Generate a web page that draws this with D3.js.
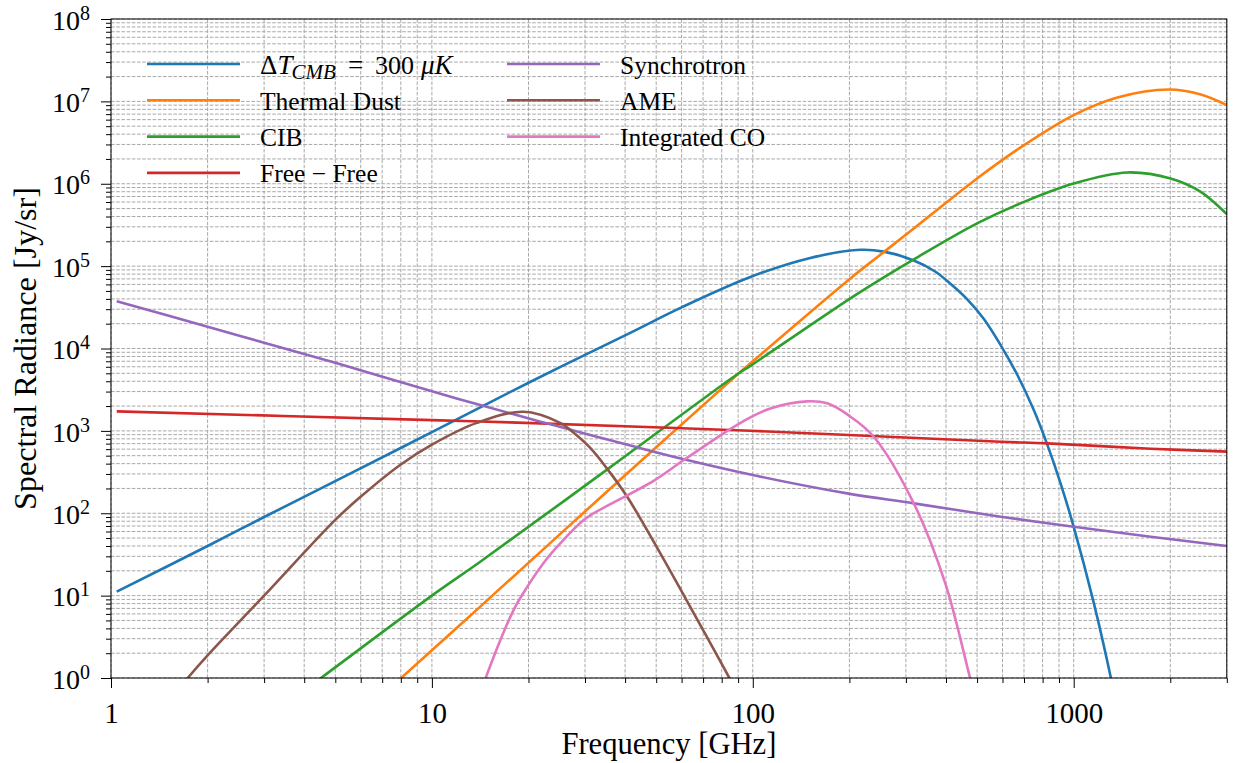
<!DOCTYPE html>
<html><head><meta charset="utf-8">
<script src="https://cdn.jsdelivr.net/npm/d3@7"></script>
<style>
body{margin:0;background:#fff}
svg{display:block}
text{font-family:"Liberation Serif","Times New Roman",serif;fill:#000}
</style>
</head><body>
<svg id="c" width="1235" height="763"></svg>
<script>
// ---------------- data ----------------
const xTickValues = [1, 10, 100, 1000];
const xTickLabels = ["1", "10", "100", "1000"];
const yTickExponents = [0, 1, 2, 3, 4, 5, 6, 7, 8];

const seriesNames = ["\u0394T_CMB = 300 \u03bcK", "Thermal Dust", "CIB", "Free \u2212 Free", "Synchrotron", "AME", "Integrated CO"];
const seriesColors = ["#1f77b4", "#ff7f0e", "#2ca02c", "#d62728", "#9467bd", "#8c564b", "#e377c2"];

const cmbFreq = [1.042, 2, 3, 5, 10, 20.3, 41.5, 60.2, 98.3, 150, 216.5, 256, 317.5, 370, 413, 466, 525, 592, 667, 751, 827, 910, 1000, 1156, 1303, 1400];
const cmbVal  = [11.2, 40, 90, 245, 966, 3950, 15500, 31800, 73800, 125000, 158000, 150000, 117000, 86000, 61000, 39500, 22800, 11000, 4800, 1790, 685, 231, 68.5, 8.05, 1.04, 0.25];

const dustFreq = [7, 8.02, 14.15, 36, 90.4, 98.3, 201.4, 255.9, 358, 500, 700, 1000, 1368, 1982, 2489, 3000];
const dustVal  = [0.62, 1, 7.35, 200, 4990, 6607, 70960, 147900, 415900, 1159000, 2938000, 6808000, 11140000, 13930000, 12110000, 8995000];

const cibFreq = [4.0, 4.51, 10, 14.15, 36, 90.4, 98.3, 201.4, 250, 317.5, 500, 700, 1000, 1469, 2004, 2489, 3000];
const cibVal  = [0.71, 1, 10, 25.8, 363, 5012, 6166, 40550, 68870, 120500, 329600, 602600, 1007000, 1371000, 1159000, 798000, 427600];

const ffFreq = [1.042, 10, 17.5, 98.3, 591.6, 827, 1738, 3000];
const ffVal  = [1726, 1352, 1268, 1002, 738, 705, 607, 560];

const syncFreq = [1.042, 2, 3, 5, 10, 14.15, 23.9, 43.6, 61, 98.3, 196.8, 317.5, 591.6, 1000, 1738, 3000];
const syncVal  = [37580, 18410, 11750, 6699, 3020, 2056, 1175, 631, 451.9, 295.1, 174.2, 131.8, 90.8, 68.5, 51.9, 40.0];

const ameFreq = [1.585, 1.734, 2.0, 3.0, 4.99, 5.97, 7.96, 10, 13.8, 19.3, 25.1, 27.0, 31.2, 35.1, 40.6, 51.5, 65.5, 84.1, 91.2];
const ameVal  = [0.646, 1, 1.884, 10, 82.6, 156, 385, 680, 1250, 1706, 1253, 1023, 616.6, 350.8, 158.5, 32.6, 6.10, 1.04, 0.562];

const coFreq = [14.13, 14.76, 17.97, 19.77, 22.84, 25.12, 29.72, 31.92, 35.97, 49.09, 60.95, 84.1, 98.3, 113.5, 147.6, 170.6, 199.5, 238.2, 317.5, 398, 474.2, 501];
const coVal  = [0.63, 1.04, 6.68, 12.6, 28.2, 43.2, 82.6, 100, 128.8, 247.2, 442.6, 1023, 1459, 1875, 2280, 2158, 1531, 849, 131.8, 14.1, 1.04, 0.45];

const seriesFreqs = [cmbFreq, dustFreq, cibFreq, ffFreq, syncFreq, ameFreq, coFreq];
const seriesVals  = [cmbVal, dustVal, cibVal, ffVal, syncVal, ameVal, coVal];

// ---------------- layout ----------------
const L = 111, R = 1226.8, T = 19, B = 678;
const svg = d3.select("#c");
const x = d3.scaleLog().domain([1, 3000]).range([L, R]);
const y = d3.scaleLog().domain([1, 1e8]).range([B, T]);

// grid values (major + minor)
const xGrid = [];
[1, 10, 100, 1000].forEach(d => { for (let m = 1; m <= 9; m++) { const v = d * m; if (v <= 3000) xGrid.push(v); } });
const yGrid = [];
for (let k = 0; k < 8; k++) for (let m = 1; m <= 9; m++) yGrid.push(m * Math.pow(10, k));
yGrid.push(1e8);

const gridStyle = g => g.attr("stroke", "#a8a8a8").attr("stroke-width", 1).attr("stroke-dasharray", "3.6,1.6").attr("fill", "none");
const grid = svg.append("g");
grid.selectAll("line.gx").data(xGrid).join("line")
  .attr("x1", d => x(d)).attr("x2", d => x(d)).attr("y1", T).attr("y2", B).call(gridStyle);
grid.selectAll("line.gy").data(yGrid).join("line")
  .attr("x1", L).attr("x2", R).attr("y1", d => y(d)).attr("y2", d => y(d)).call(gridStyle);

// clip
svg.append("clipPath").attr("id", "clip").append("rect")
  .attr("x", L).attr("y", T).attr("width", R - L).attr("height", B - T);

// series lines
const line = d3.line().x(d => x(d[0])).y(d => y(d[1])).curve(d3.curveCatmullRom.alpha(0.5));
const lines = svg.append("g").attr("clip-path", "url(#clip)");
seriesFreqs.forEach((fr, i) => {
  const pts = fr.map((f, j) => [f, seriesVals[i][j]]);
  lines.append("path").datum(pts).attr("d", line)
    .attr("fill", "none").attr("stroke", seriesColors[i]).attr("stroke-width", 2.6)
    .attr("stroke-linejoin", "round");
});

// x axis ticks
const xMinor = xGrid.filter(v => !xTickValues.includes(v));
const xAxis = svg.append("g").attr("transform", `translate(0,${B})`);
xAxis.call(d3.axisBottom(x).tickValues(xTickValues).tickSize(10).tickSizeOuter(0).tickFormat((d, i) => xTickLabels[i]));
xAxis.select(".domain").remove();
xAxis.selectAll("text").attr("font-size", 29).attr("font-family", "Liberation Serif").attr("y", 24).attr("dy", "0.71em");
const xAxisMinor = svg.append("g").attr("transform", `translate(0,${B})`);
xAxisMinor.call(d3.axisBottom(x).tickValues(xMinor).tickSize(5).tickSizeOuter(0).tickFormat(""));
xAxisMinor.select(".domain").remove();

// y axis ticks
const yMajor = yTickExponents.map(e => Math.pow(10, e));
const yMinor = yGrid.filter(v => !yMajor.includes(v));
const yAxis = svg.append("g").attr("transform", `translate(${L},0)`);
yAxis.call(d3.axisLeft(y).tickValues(yMajor).tickSize(10).tickSizeOuter(0).tickFormat(""));
yAxis.select(".domain").remove();
const yAxisMinor = svg.append("g").attr("transform", `translate(${L},0)`);
yAxisMinor.call(d3.axisLeft(y).tickValues(yMinor).tickSize(5).tickSizeOuter(0).tickFormat(""));
yAxisMinor.select(".domain").remove();
svg.selectAll(".tick line").attr("stroke", "#000").attr("stroke-width", 1);

// y tick labels 10^n
yTickExponents.forEach(e => {
  const t = svg.append("text").attr("x", 90).attr("y", y(Math.pow(10, e)) + 10.7)
    .attr("text-anchor", "end").attr("font-size", 28);
  t.append("tspan").text("10");
  t.append("tspan").attr("font-size", 20).attr("dy", -10).text(String(e));
});

// spines
svg.append("rect").attr("x", L).attr("y", T).attr("width", R - L).attr("height", B - T)
  .attr("fill", "none").attr("stroke", "#000").attr("stroke-width", 1);

// axis labels
svg.append("text").attr("x", (L + R) / 2).attr("y", 754).attr("text-anchor", "middle")
  .attr("font-size", 31).attr("textLength", 215).attr("lengthAdjust", "spacingAndGlyphs").text("Frequency [GHz]");
svg.append("text").attr("transform", `translate(36,${(T + B) / 2}) rotate(-90)`).attr("text-anchor", "middle")
  .attr("font-size", 31).attr("textLength", 323).attr("lengthAdjust", "spacingAndGlyphs").text("Spectral Radiance [Jy/sr]");

// legend
const legendCols = [{ lineX: 147, textX: 260, idx: [0, 1, 2, 3] }, { lineX: 507, textX: 620, idx: [4, 5, 6] }];
const legTop = 64, legGap = 36.3, legLineLen = 93;
legendCols.forEach(col => {
  col.idx.forEach((si, r) => {
    const yy = legTop + r * legGap;
    svg.append("line").attr("x1", col.lineX).attr("x2", col.lineX + legLineLen).attr("y1", yy).attr("y2", yy)
      .attr("stroke", seriesColors[si]).attr("stroke-width", 2.6);
    const t = svg.append("text").attr("x", col.textX).attr("y", yy + 9.5).attr("font-size", 25.5);
    if (si === 0) {
      const bx = col.textX;
      t.append("tspan").attr("font-size", 27).text("\u0394");
      t.append("tspan").attr("font-style", "italic").attr("font-size", 27).text("T");
      t.append("tspan").attr("font-style", "italic").attr("font-size", 21).attr("dy", 5).attr("dx", -1).text("CMB");
      t.append("tspan").attr("dy", -5).attr("x", bx + 88).attr("font-size", 27).text("=");
      t.append("tspan").attr("x", bx + 115).attr("font-size", 26).text("300");
      t.append("tspan").attr("x", bx + 161).attr("font-style", "italic").attr("font-size", 27).text("\u03bcK");
    } else {
      t.text(seriesNames[si]);
    }
  });
});
</script>
</body></html>
